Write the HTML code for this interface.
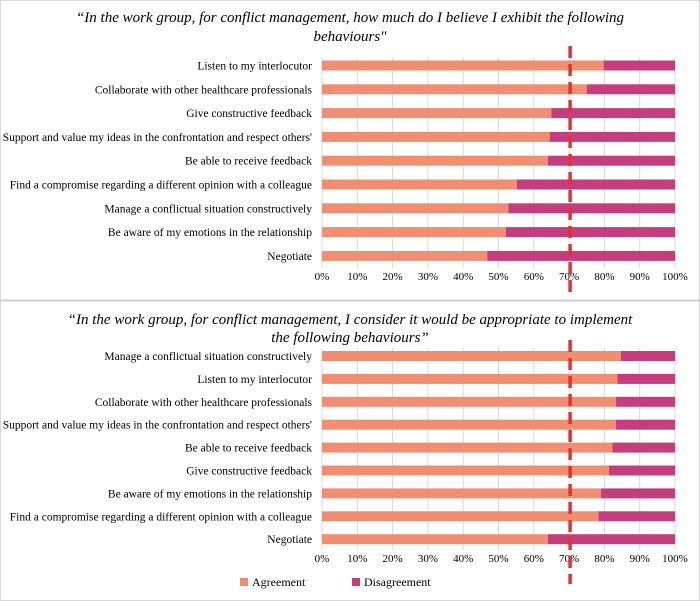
<!DOCTYPE html>
<html><head><meta charset="utf-8"><style>
body{margin:0;background:#fff;}
svg{display:block;font-family:"Liberation Serif",serif;}
</style></head><body>
<svg id="c" width="700" height="601">
<rect x="0.5" y="0.5" width="699" height="600" fill="#fff" stroke="#d9d9d9"/>
<line x1="0" y1="300.5" x2="700" y2="300.5" stroke="#d0d0d0" stroke-width="2"/>
<text x="350" y="22" text-anchor="middle" font-size="15" font-style="italic">“In the work group, for conflict management, how much do I believe I exhibit the following</text>
<text x="350" y="41" text-anchor="middle" font-size="15" font-style="italic">behaviours"</text>
<text x="350" y="324" text-anchor="middle" font-size="15" font-style="italic">“In the work group, for conflict management, I consider it would be appropriate to implement</text>
<text x="350" y="342" text-anchor="middle" font-size="15" font-style="italic">the following behaviours”</text>
<g id="g1"></g><g id="g2"></g>
<rect x="240" y="578" width="8" height="8" fill="#f08e73"/>
<text x="252" y="586" font-size="12">Agreement</text>
<rect x="352" y="578" width="8" height="8" fill="#c43e7d"/>
<text x="364" y="586" font-size="12">Disagreement</text>
</svg>
<script>
const cats1=["Listen to my interlocutor","Collaborate with other healthcare professionals","Give constructive feedback","Support and value my ideas in the confrontation and respect others'","Be able to receive feedback","Find a compromise regarding a different opinion with a colleague","Manage a conflictual situation constructively","Be aware of my emotions in the relationship","Negotiate"];
const agree1=[79.8,75,65,64.5,64,55.2,52.8,52.1,46.8];
const cats2=["Manage a conflictual situation constructively","Listen to my interlocutor","Collaborate with other healthcare professionals","Support and value my ideas in the confrontation and respect others'","Be able to receive feedback","Give constructive feedback","Be aware of my emotions in the relationship","Find a compromise regarding a different opinion with a colleague","Negotiate"];
const agree2=[84.7,83.7,83.3,83.3,82.3,81.3,79,78.3,64];
const ticks=["0%","10%","20%","30%","40%","50%","60%","70%","80%","90%","100%"];
const threshold=70;
const NS="http://www.w3.org/2000/svg";
const x0=322,x1=675;
function X(v){return x0+(x1-x0)*v/100;}
function mk(p,t,a){const e=document.createElementNS(NS,t);for(const k in a)e.setAttribute(k,a[k]);p.appendChild(e);return e;}
function draw(g,cats,vals,top,step,axisY,dashTop,dashBot,pfx){
  ticks.forEach((t,i)=>{const v=i*10;
    const l=mk(g,'line',{x1:X(v),x2:X(v),y1:top-8,y2:axisY-8,stroke:'#d9d9d9'});
    
    
    const tx=mk(g,'text',{x:X(v),y:axisY+4,'text-anchor':'middle','font-size':11});
    tx.textContent=t;
    
    
  });
  cats.forEach((c,i)=>{const y=top+i*step;
    const lb=mk(g,'text',{x:312,y:y+4,'text-anchor':'end','font-size':11.5});
    lb.textContent=c;
    
    
    const a=mk(g,'rect',{x:X(0),y:y-5,width:X(vals[i])-X(0),height:10,fill:'#f08e73'});
    
    
    const d=mk(g,'rect',{x:X(vals[i]),y:y-5,width:X(100)-X(vals[i]),height:10,fill:'#c43e7d'});
    
    
  });
  const dl=mk(g,'line',{x1:X(threshold)+1,x2:X(threshold)+1,y1:dashTop,y2:dashBot,stroke:'#e8302a','stroke-width':3.5,'stroke-dasharray':'12,6'});
  
  
}
draw(document.getElementById('g1'),cats1,agree1,65.5,23.8,276,46,296,'top');
draw(document.getElementById('g2'),cats2,agree2,356,22.9,558,340,584,'bottom');
</script>
</body></html>
